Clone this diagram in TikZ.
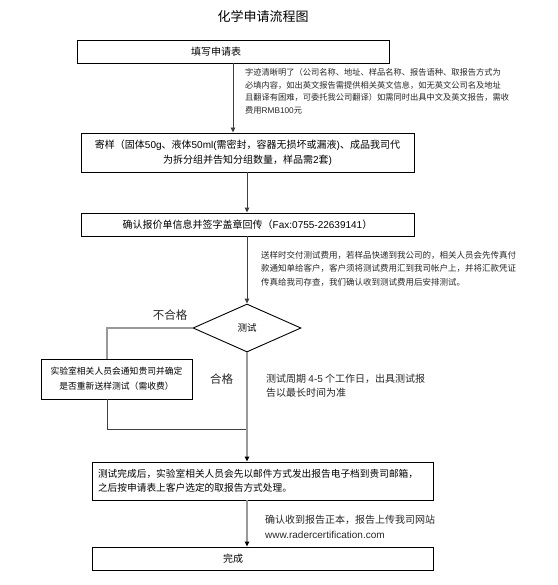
\documentclass[tikz,border=0pt]{standalone}
\usepackage{fontspec}
\setmainfont{Noto Sans CJK SC}
\newfontfamily\lat{Liberation Sans}
\usetikzlibrary{arrows.meta,shapes.geometric}
\tikzset{
  box/.style={draw=black,line width=0.9pt,rectangle,inner sep=0pt,font=\fontsize{10}{15}\selectfont,align=center},
  conn/.style={draw=black!75,line width=0.9pt},
  connarrow/.style={conn,-{Triangle[length=5pt,width=4.5pt]}},
  grayconn/.style={draw=black!40,line width=1.3pt},
  grayarrow/.style={grayconn,-{Triangle[length=5pt,width=4.5pt,color=black]}},
  note/.style={anchor=north west,inner sep=0pt,align=left,text=black!85},
  lbl/.style={inner sep=0pt,font=\fontsize{11.5}{13}\selectfont,text=black!85}
}
\begin{document}
\begin{tikzpicture}[x=1pt,y=-1pt]
\useasboundingbox (0,0) rectangle (557,585);
\node[inner sep=0pt,font=\fontsize{13}{15}\selectfont] (title) at (263,17) {化学申请流程图};
\node[box,minimum width=312pt,minimum height=23pt,label={[xshift=-17pt,font=\fontsize{10}{12}\selectfont]center:填写申请表}] (b1) at (233,51.5) {};
\node[note,font=\fontsize{8.25}{12.5}\selectfont] (n1) at (245,68.5) {字迹清晰明了（公司名称、地址、样品名称、报告语种、取报告方式为\\必填内容，如出英文报告需提供相关英文信息，如无英文公司名及地址\\且翻译有困难，可委托我公司翻译）如需同时出具中文及英文报告，需收\\费用{\lat RMB100}元};
\node[box,minimum width=333pt,minimum height=39pt] (b2) at (247.5,152.5) {寄样（固体{\lat 50g}、液体{\lat 50ml(}需密封，容器无损坏或漏液{\lat )}、成品我司代\\为拆分组并告知分组数量，样品需{\lat 2}套{\lat )}};
\node[box,minimum width=333pt,minimum height=23pt] (b3) at (247.5,224.5) {确认报价单信息并签字盖章回传（{\lat Fax:0755-22639141}）};
\node[note,font=\fontsize{8.5}{13.5}\selectfont] (n2) at (261,251) {送样时交付测试费用，若样品快递到我公司的，相关人员会先传真付\\款通知单给客户，客户须将测试费用汇到我司帐户上，并将汇款凭证\\传真给我司存查，我们确认收到测试费用后安排测试。};
\node[draw=black,line width=0.9pt,diamond,minimum width=108pt,minimum height=48pt,inner sep=0pt,font=\fontsize{9.5}{11}\selectfont] (dia) at (247,328) {测试};
\node[lbl] (fail) at (170,315) {不合格};
\node[box,minimum width=151pt,minimum height=40pt,font=\fontsize{8.8}{15}\selectfont] (b4) at (116.5,379) {实验室相关人员会通知贵司并确定\\是否重新送样测试（需收费）};
\node[lbl] (pass) at (221.5,379) {合格};
\node[note,font=\fontsize{10}{14}\selectfont] (n3) at (266,373.5) {测试周期 {\lat 4-5} 个工作日，出具测试报\\告以最长时间为准};
\node[box,minimum width=341pt,minimum height=38pt,text width=329pt,align=left,font=\fontsize{9.7}{14}\selectfont] (b5) at (262.5,481) {测试完成后，实验室相关人员会先以邮件方式发出报告电子档到贵司邮箱，\\之后按申请表上客户选定的取报告方式处理。};
\node[note,font=\fontsize{10}{15}\selectfont] (n4) at (265,514.5) {确认收到报告正本，报告上传我司网站\\{\lat www.radercertification.com}};
\node[box,minimum width=341pt,minimum height=23pt,label={[xshift=-29.5pt,font=\fontsize{10}{12}\selectfont]center:完成}] (b6) at (262.5,558.5) {};
\coordinate (m1) at (107,429);
% connectors
\draw[connarrow] (b1.south) -- (b1.south |- b2.north);
\draw[connarrow] (b2.south -| dia.north) -- (b3.north -| dia.north);
\draw[connarrow] (b3.south -| dia.north) -- (dia.north);
\draw[grayconn] (dia.west) -| (b4.north -| m1);
\draw[conn] (b4.south -| m1) -- (m1) -- (m1 -| dia.south);
\draw[grayarrow] (dia.south) -- (dia.south |- b5.north);
\draw[grayarrow] (b5.south -| dia.south) -- (b6.north -| dia.south);
\end{tikzpicture}
\end{document}
